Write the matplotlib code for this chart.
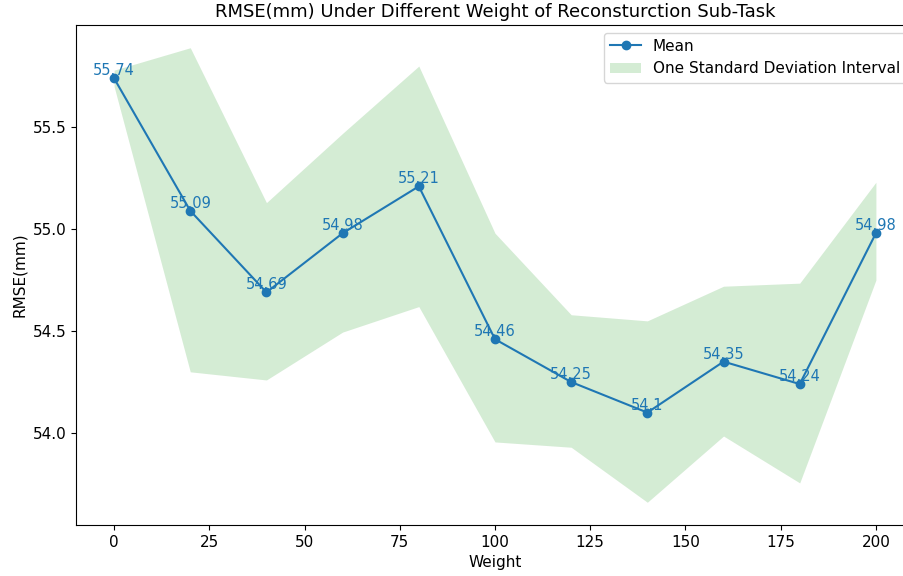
import matplotlib
matplotlib.use("Agg")
import matplotlib.pyplot as plt

weights = [0, 20, 40, 60, 80, 100, 120, 140, 160, 180, 200]
mean_rmse = [55.74, 55.09, 54.69, 54.98, 55.21, 54.46, 54.25, 54.1, 54.35, 54.24, 54.98]
upper = [55.78, 55.89, 55.13, 55.47, 55.80, 54.98, 54.58, 54.55, 54.72, 54.735, 55.23]
lower = [55.70, 54.30, 54.26, 54.495, 54.62, 53.956, 53.93, 53.66, 53.985, 53.755, 54.75]

plt.rcParams['font.size'] = 11
fig = plt.figure(figsize=(9.04, 5.76), dpi=100)
ax = fig.add_axes([76/904, 51/576, (914-76)/904, 500/576])

ax.plot(weights, mean_rmse, marker='o', color='C0', label='Mean')
ax.fill_between(weights, lower, upper, color='C2', alpha=0.2, linewidth=0,
                label='One Standard Deviation Interval')
for x, y in zip(weights, mean_rmse):
    ax.text(x, y, str(y), ha='center', va='bottom', color='C0', fontsize=10.5)

ax.set_title('RMSE(mm) Under Different Weight of Reconsturction Sub-Task', fontsize=13)
ax.set_xlabel('Weight')
ax.set_ylabel('RMSE(mm)')
ax.set_yticks([54.0, 54.5, 55.0, 55.5])
ax.legend(loc='upper right', fontsize=11)

fig.savefig('out.png', dpi=100)
